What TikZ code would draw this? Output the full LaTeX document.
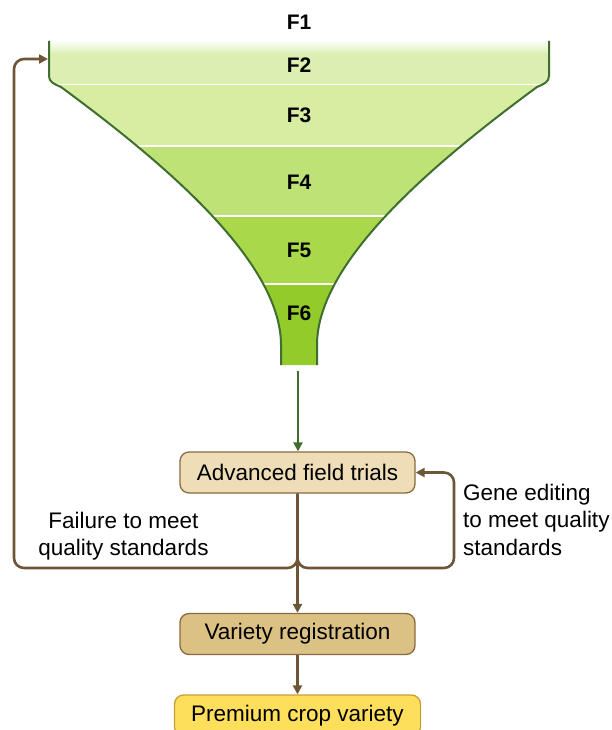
\documentclass[tikz,border=0pt]{standalone}
\usepackage{fontspec}
\setmainfont{Liberation Sans}
\usetikzlibrary{arrows.meta}
\definecolor{fTwo}{HTML}{DBEFB3}
\definecolor{fThree}{HTML}{D6EDA2}
\definecolor{fFour}{HTML}{BEE276}
\definecolor{fFive}{HTML}{A9D94B}
\definecolor{fSix}{HTML}{93CB2B}
\definecolor{fOutline}{HTML}{3F6E2E}
\definecolor{brownLine}{HTML}{6E5535}
\definecolor{aftFill}{HTML}{EEDDB6}
\definecolor{vrFill}{HTML}{DCC184}
\definecolor{boxBorder}{HTML}{8A6A40}
\definecolor{premFill}{HTML}{FDDF5C}
\definecolor{premBorder}{HTML}{C9A035}
\tikzset{
  flabel/.style={font=\fontsize{21}{24}\selectfont\bfseries, inner sep=0pt},
  lbl/.style={font=\fontsize{22.5}{27.5}\selectfont, inner sep=0pt},
  stagebox/.style={draw=boxBorder, line width=1.3pt, rounded corners=9pt, minimum width=235pt, minimum height=41pt, inner sep=0pt, font=\fontsize{22.5}{27.5}\selectfont},
  brownarrow/.style={draw=brownLine, line width=2.6pt, -{Triangle[length=9pt,width=9pt]}},
  greenarrow/.style={draw=fOutline, line width=2.4pt, -{Triangle[length=9pt,width=9pt]}},
  funnelside/.style={draw=fOutline, line width=2pt},
  sepline/.style={draw=white, line width=1.3pt}
}
\def\funnelpath{(49,41) -- (49,76) .. controls (49,82) and (54,84) .. (61,87) .. controls (160,160) and (281,260) .. (281,345) -- (281,365) -- (317,365) -- (317,345) .. controls (317,260) and (438,160) .. (537,87) .. controls (544,84) and (549,82) .. (549,76) -- (549,41) -- cycle}
\begin{document}
\begin{tikzpicture}[x=1pt,y=-1pt]
\useasboundingbox (0,0) rectangle (612,730);
% funnel bands
\begin{scope}
  \clip \funnelpath;
  \fill[fTwo] (0,41) rectangle (612,84.3);
  \shade[top color=white, bottom color=fTwo] (0,40) rectangle (612,54);
  \fill[fThree] (0,84.3) rectangle (612,146);
  \fill[fFour] (0,146) rectangle (612,216);
  \fill[fFive] (0,216) rectangle (612,284);
  \fill[fSix] (0,284) rectangle (612,366);
  \draw[sepline] (0,84.3) -- (612,84.3);
  \draw[sepline] (0,146) -- (612,146);
  \draw[sepline] (0,216) -- (612,216);
  \draw[sepline] (0,284) -- (612,284);
\end{scope}
\draw[funnelside] (49,41) -- (49,76) .. controls (49,82) and (54,84) .. (61,87) .. controls (160,160) and (281,260) .. (281,345) -- (281,365);
\draw[funnelside] (549,41) -- (549,76) .. controls (549,82) and (544,84) .. (537,87) .. controls (438,160) and (317,260) .. (317,345) -- (317,365);
% funnel labels
\node[flabel] (F1) at (299,22) {F1};
\node[flabel] (F2) at (299,65) {F2};
\node[flabel] (F3) at (299,115) {F3};
\node[flabel] (F4) at (299,182) {F4};
\node[flabel] (F5) at (299,250) {F5};
\node[flabel] (F6) at (299,313) {F6};
\coordinate (funbot) at (298,371);
\coordinate (funleft) at (48,59);
% boxes
\node[stagebox, fill=aftFill] (aft) at (297.5,472.5) {Advanced field trials};
\node[stagebox, fill=vrFill] (vr) at (297.5,634) {Variety registration};
\node[stagebox, draw=premBorder, fill=premFill, minimum width=246pt] (prem) at (297.5,715.5) {Premium crop variety};
% connectors
\draw[greenarrow] (funbot) -- (funbot |- aft.north);
\draw[brownarrow, rounded corners=10pt] (aft.south) -- (297.5,568) -- (14,568) -- (14,59) -- (funleft);
\draw[brownarrow, rounded corners=10pt] (aft.south) -- (297.5,568) -- (454,568) -- (454,472.5) -- (aft.east);
\draw[brownarrow] (aft.south) -- (vr.north);
\draw[brownarrow] (vr.south) -- (prem.north);
% labels
\node[lbl, align=center] (fail) at (123.5,536) {Failure to meet\\quality standards};
\node[lbl, align=left, anchor=west] (gene) at (463,519.5) {Gene editing\\to meet quality\\standards};
\end{tikzpicture}
\end{document}
